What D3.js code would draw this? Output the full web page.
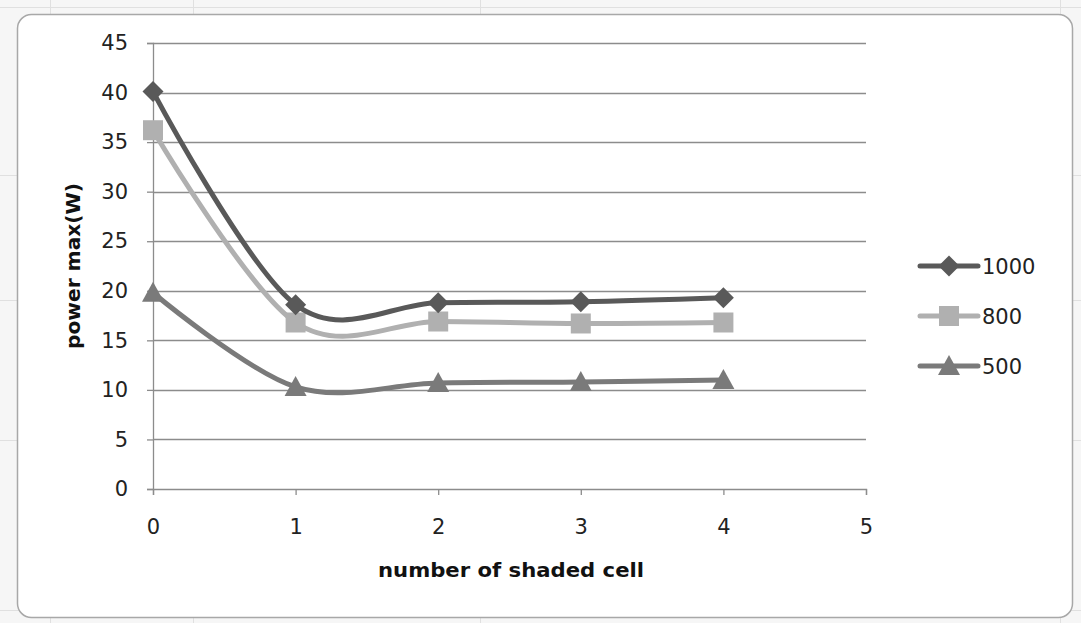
<!DOCTYPE html>
<html><head><meta charset="utf-8">
<script src="https://cdn.jsdelivr.net/npm/d3@7"></script>
<style>
html,body{margin:0;padding:0;background:#fff;}
svg{display:block;}
</style></head>
<body>
<svg id="c" width="1081" height="623"></svg>
<script>
const xValues = [0, 1, 2, 3, 4];
const seriesNames = ["1000", "800", "500"];
const values1000 = [40.1, 18.6, 18.8, 18.9, 19.3];
const values800 = [36.2, 16.8, 16.9, 16.7, 16.8];
const values500 = [19.8, 10.3, 10.7, 10.8, 11.0];
const yTicks = [0, 5, 10, 15, 20, 25, 30, 35, 40, 45];
const xTicks = [0, 1, 2, 3, 4, 5];
const seriesColors = ["#595959", "#b0b0b0", "#7a7a7a"];
const seriesMarkers = ["diamond", "square", "triangle"];

const series = [values1000, values800, values500].map((v, i) => ({
  name: seriesNames[i], values: v, color: seriesColors[i], marker: seriesMarkers[i]
}));

const svg = d3.select("#c");
const W = 1081, H = 623;
const font = "'DejaVu Sans',Verdana,sans-serif";
const tickFont = "'DejaVu Sans',Verdana,sans-serif";

// spreadsheet-like background
svg.append("rect").attr("x",0).attr("y",0).attr("width",W).attr("height",H).attr("fill","#f6f6f6");
const bg = svg.append("g").attr("stroke","#e0e0e0").attr("stroke-width",1);
[50,193,480,1060].forEach(x=>bg.append("line").attr("x1",x+0.5).attr("x2",x+0.5).attr("y1",0).attr("y2",H));
[7,175,300,440,610].forEach(y=>bg.append("line").attr("y1",y+0.5).attr("y2",y+0.5).attr("x1",0).attr("x2",W));

svg.append("rect").attr("x",17.5).attr("y",14.5).attr("width",1055).attr("height",603)
  .attr("rx",14).attr("fill","#fff").attr("stroke","#a8a8a8").attr("stroke-width",1.5);

const x = d3.scaleLinear().domain([0,5]).range([153,866]);
const y = d3.scaleLinear().domain([0,45]).range([489,43]);

// gridlines
svg.append("g").selectAll("line").data(yTicks.filter(d=>d>0)).join("line")
  .attr("x1",x(0)).attr("x2",x(5)).attr("y1",d=>Math.round(y(d))+0.5).attr("y2",d=>Math.round(y(d))+0.5)
  .attr("stroke","#8c8c8c").attr("stroke-width",1.3);

// y axis
const yAxis = svg.append("g").attr("transform",`translate(${x(0)},0)`)
  .call(d3.axisLeft(y).tickValues(yTicks).tickFormat(d3.format("d")).tickSize(6).tickPadding(19));
yAxis.select(".domain").attr("stroke","#8c8c8c").attr("stroke-width",1.3);
yAxis.selectAll(".tick line").attr("stroke","#8c8c8c").attr("stroke-width",1.3);
yAxis.selectAll("text").attr("font-family",tickFont).attr("font-size",21).attr("fill","#222");

// x axis
const xAxis = svg.append("g").attr("transform",`translate(0,${y(0)})`)
  .call(d3.axisBottom(x).tickValues(xTicks).tickFormat(d3.format("d")).tickSize(6).tickPadding(24));
xAxis.select(".domain").attr("stroke","#8c8c8c").attr("stroke-width",1.3);
xAxis.selectAll(".tick line").attr("stroke","#8c8c8c").attr("stroke-width",1.3);
xAxis.selectAll("text").attr("font-family",tickFont).attr("font-size",21).attr("fill","#222");

// titles
svg.append("text").attr("x",511).attr("y",577).attr("text-anchor","middle")
  .attr("font-family",font).attr("font-weight","bold").attr("font-size",19).attr("fill","#111")
  .attr("textLength",266).attr("lengthAdjust","spacingAndGlyphs")
  .text("number of shaded cell");
svg.append("text").attr("transform","translate(80,266) rotate(-90)").attr("text-anchor","middle")
  .attr("font-family",font).attr("font-weight","bold").attr("font-size",19).attr("fill","#111")
  .attr("textLength",166).attr("lengthAdjust","spacingAndGlyphs")
  .text("power max(W)");

const line = d3.line().x((d,i)=>x(xValues[i])).y(d=>y(d)).curve(d3.curveCardinal.tension(0));

function markerPath(type){
  if(type==="diamond") return "M0,-10.5L10.5,0L0,10.5L-10.5,0Z";
  if(type==="square") return "M-10,-10H10V10H-10Z";
  return "M0,-11L11,9H-11Z";
}

const g = svg.append("g");
series.slice().reverse().forEach(s=>{
  g.append("path").attr("d",line(s.values)).attr("fill","none")
    .attr("stroke",s.color).attr("stroke-width",5).attr("stroke-linejoin","round");
  g.selectAll(null).data(s.values).join("path")
    .attr("transform",(d,i)=>`translate(${x(xValues[i])},${y(d)})`)
    .attr("d",markerPath(s.marker)).attr("fill",s.color);
});

// legend
const lg = svg.append("g");
series.forEach((s,i)=>{
  const ly = 266 + i*50;
  lg.append("line").attr("x1",920).attr("x2",978).attr("y1",ly).attr("y2",ly)
    .attr("stroke",s.color).attr("stroke-width",5).attr("stroke-linecap","round");
  lg.append("path").attr("transform",`translate(949,${ly})`).attr("d",markerPath(s.marker)).attr("fill",s.color);
  lg.append("text").attr("x",982).attr("y",ly+8).attr("font-family",tickFont).attr("font-size",21)
    .attr("fill","#222").text(s.name);
});
</script>
</body></html>
